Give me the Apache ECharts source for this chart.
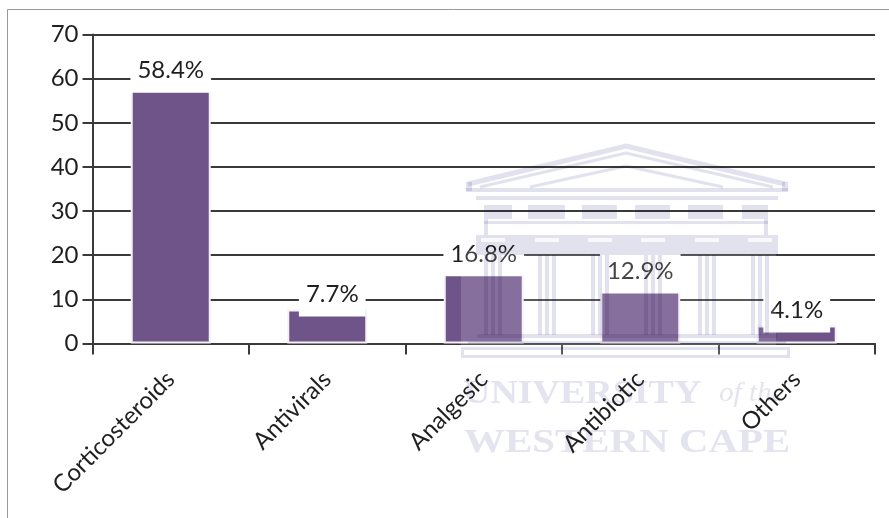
<!DOCTYPE html>
<html>
<head>
<meta charset="utf-8">
<style>html,body{margin:0;padding:0;background:#fff}#c{width:889px;height:518px}</style>
<script src="https://cdn.jsdelivr.net/npm/echarts@6/dist/echarts.min.js"></script>
</head>
<body>
<div id="c"></div>
<script>
const categories = ['Corticosteroids', 'Antivirals', 'Analgesic', 'Antibiotic', 'Others'];
const percentages = [58.4, 7.7, 16.8, 12.9, 4.1];
const yTicks = { min: 0, max: 70, interval: 10 };

const FONT = 'Lato, "Open Sans", sans-serif';
const INK = '#1f1f1f';
const LINE = '#3a3a3a';
const BAR = '#6f5489';
const WM = '#e2e2ef';

// Decorative watermark: a faint building with the university name, laid over the chart.
const columnCentres = [493, 547, 600, 653, 707, 760];
const friezeWindows = [[512, 528], [565, 582], [617, 635], [670, 688], [723, 742]];
const wmShapes = [];
function rect(x, y, w, h, fill) {
  wmShapes.push({ type: 'rect', silent: true, z: 5, shape: { x, y, width: w, height: h },
    style: { fill: fill || WM, blend: 'multiply' } });
}
function roof(points, width) {
  wmShapes.push({ type: 'polyline', silent: true, z: 5, shape: { points },
    style: { stroke: WM, lineWidth: width, fill: 'none', blend: 'multiply' } });
}
// veil that lightens the bars beneath the building
wmShapes.push({ type: 'rect', silent: true, z: 4, shape: { x: 461, y: 250, width: 315, height: 107 },
  style: { fill: 'rgba(255,255,255,0.16)' } });
// pediment
roof([[468, 184], [626, 146], [785, 184]], 5);
roof([[480, 187], [626, 153], [773, 187]], 3);
roof([[530, 187], [626, 166], [723, 187]], 3);
rect(466, 182, 6, 9);
rect(782, 182, 6, 9);
rect(466, 188, 322, 4);
rect(476, 196, 302, 4);
// frieze with its windows
let fx = 484;
friezeWindows.forEach(w => { rect(fx, 205, w[0] - fx, 14); fx = w[1]; });
rect(fx, 205, 768 - fx, 14);
rect(484, 219, 4, 16);
rect(764, 219, 4, 16);
rect(484, 221, 284, 3);
// architrave and column capitals
rect(476, 235, 302, 20);
columnCentres.forEach(cx => {
  wmShapes.push({ type: 'rect', silent: true, z: 5, shape: { x: cx - 12, y: 238, width: 24, height: 4 },
    style: { fill: 'rgba(255,255,255,0.8)' } });
  [-7, 0, 7].forEach(dx => rect(cx + dx - 2, 255, 4, 80));
});
// steps and base
rect(477, 334, 300, 4);
rect(468, 341, 318, 3);
rect(461, 347, 329, 3);
rect(461, 355, 329, 3);
rect(461, 350, 3, 5);
rect(787, 350, 3, 5);

const wmText = [
  { text: 'UNIVERSITY', x: 463, y: 394, sx: 1.15, font: 'bold 33px "Liberation Serif"' },
  { text: 'of the', x: 719, y: 394, sx: 1.08, font: 'italic 27px "Liberation Serif"' },
  { text: 'WESTERN CAPE', x: 464, y: 443, sx: 1.24, font: 'bold 33px "Liberation Serif"' }
].map(t => ({
  type: 'text', silent: true, z: 0, x: t.x, y: t.y, scaleX: t.sx, originX: 0,
  style: { text: t.text, font: t.font, fill: '#e3e4ef', verticalAlign: 'middle' }
}));

const frame = {
  type: 'polyline', silent: true, z: 1,
  shape: { points: [[7.5, 518], [7.5, 9.5], [889, 9.5]] },
  style: { stroke: '#9a9a9a', lineWidth: 1, fill: 'none' }
};

const chart = echarts.init(document.getElementById('c'), null, { renderer: 'canvas' });
chart.setOption({
  animation: false,
  backgroundColor: '#fff',
  grid: { left: 92.5, right: 14, top: 34.5, bottom: 174.5, containLabel: false },
  xAxis: {
    type: 'category',
    data: categories,
    axisLine: { show: true, lineStyle: { color: LINE, width: 2 } },
    axisTick: { show: true, alignWithLabel: false, length: 11, lineStyle: { color: LINE, width: 2 } },
    axisLabel: { rotate: 45, margin: 32, fontFamily: FONT, fontSize: 24, color: INK, interval: 0 }
  },
  yAxis: {
    type: 'value',
    min: yTicks.min, max: yTicks.max, interval: yTicks.interval,
    axisLine: { show: true, lineStyle: { color: LINE, width: 2 } },
    axisTick: { show: true, length: 10, lineStyle: { color: LINE, width: 2 } },
    axisLabel: { margin: 14, fontFamily: FONT, fontSize: 24, color: INK },
    splitLine: { show: true, lineStyle: { color: LINE, width: 2 } }
  },
  series: [{
    type: 'bar',
    z: 2,
    barWidth: 80,
    data: percentages.map((v, i) => i === 1
      ? { value: v, label: { offset: [5, 0] } }
      : v),
    itemStyle: { color: BAR, borderColor: '#f4f1f7', borderWidth: 2 },
    label: {
      show: true,
      position: 'top',
      distance: -7,
      formatter: '{c}%',
      fontFamily: FONT,
      fontSize: 24,
      lineHeight: 24,
      color: INK,
      backgroundColor: '#fff',
      padding: [13, 7, 10, 7]
    }
  }],
  graphic: { elements: [frame, ...wmText, ...wmShapes] }
});
</script>
</body>
</html>
